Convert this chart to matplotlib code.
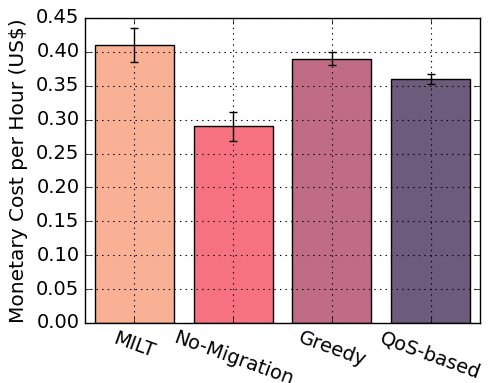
import matplotlib
matplotlib.use("Agg")
import matplotlib.pyplot as plt
import numpy as np

categories = ["MILT", "No-Migration", "Greedy", "QoS-based"]
values = [0.41, 0.29, 0.39, 0.36]
errors = [0.025, 0.021, 0.0095, 0.008]
colors = ["#F8B195", "#F67280", "#C06C84", "#6C5B7B"]
yticks = [0.00, 0.05, 0.10, 0.15, 0.20, 0.25, 0.30, 0.35, 0.40, 0.45]

plt.style.use("classic")
plt.rcParams["figure.facecolor"] = "white"
plt.rcParams["savefig.facecolor"] = "white"

fig = plt.figure(figsize=(4.88, 3.83), dpi=100)
ax = fig.add_axes([85/488, 1 - 323/383, 395/488, 305/383])
x = np.arange(len(categories))
ax.bar(x, values, width=0.8, align="center", color=colors, edgecolor="black",
       linewidth=1.0, yerr=errors, ecolor="black", capsize=3,
       error_kw=dict(elinewidth=1.0, capthick=1.0), zorder=2)
ax.set_xlim(-0.5, 3.5)
ax.set_ylim(0, 0.45)
ax.set_yticks(yticks)
ax.set_yticklabels([f"{t:.2f}" for t in yticks], fontsize=14)
ax.set_xticks(x)
ax.set_xticklabels(categories, rotation=-20, ha="center", fontsize=14)
ax.set_ylabel("Monetary Cost per Hour (US\\$)", fontsize=14.5, labelpad=6)
ax.grid(True, linestyle=":", color="black", linewidth=0.8)
ax.set_axisbelow(False)
fig.savefig("out.png", dpi=100)
